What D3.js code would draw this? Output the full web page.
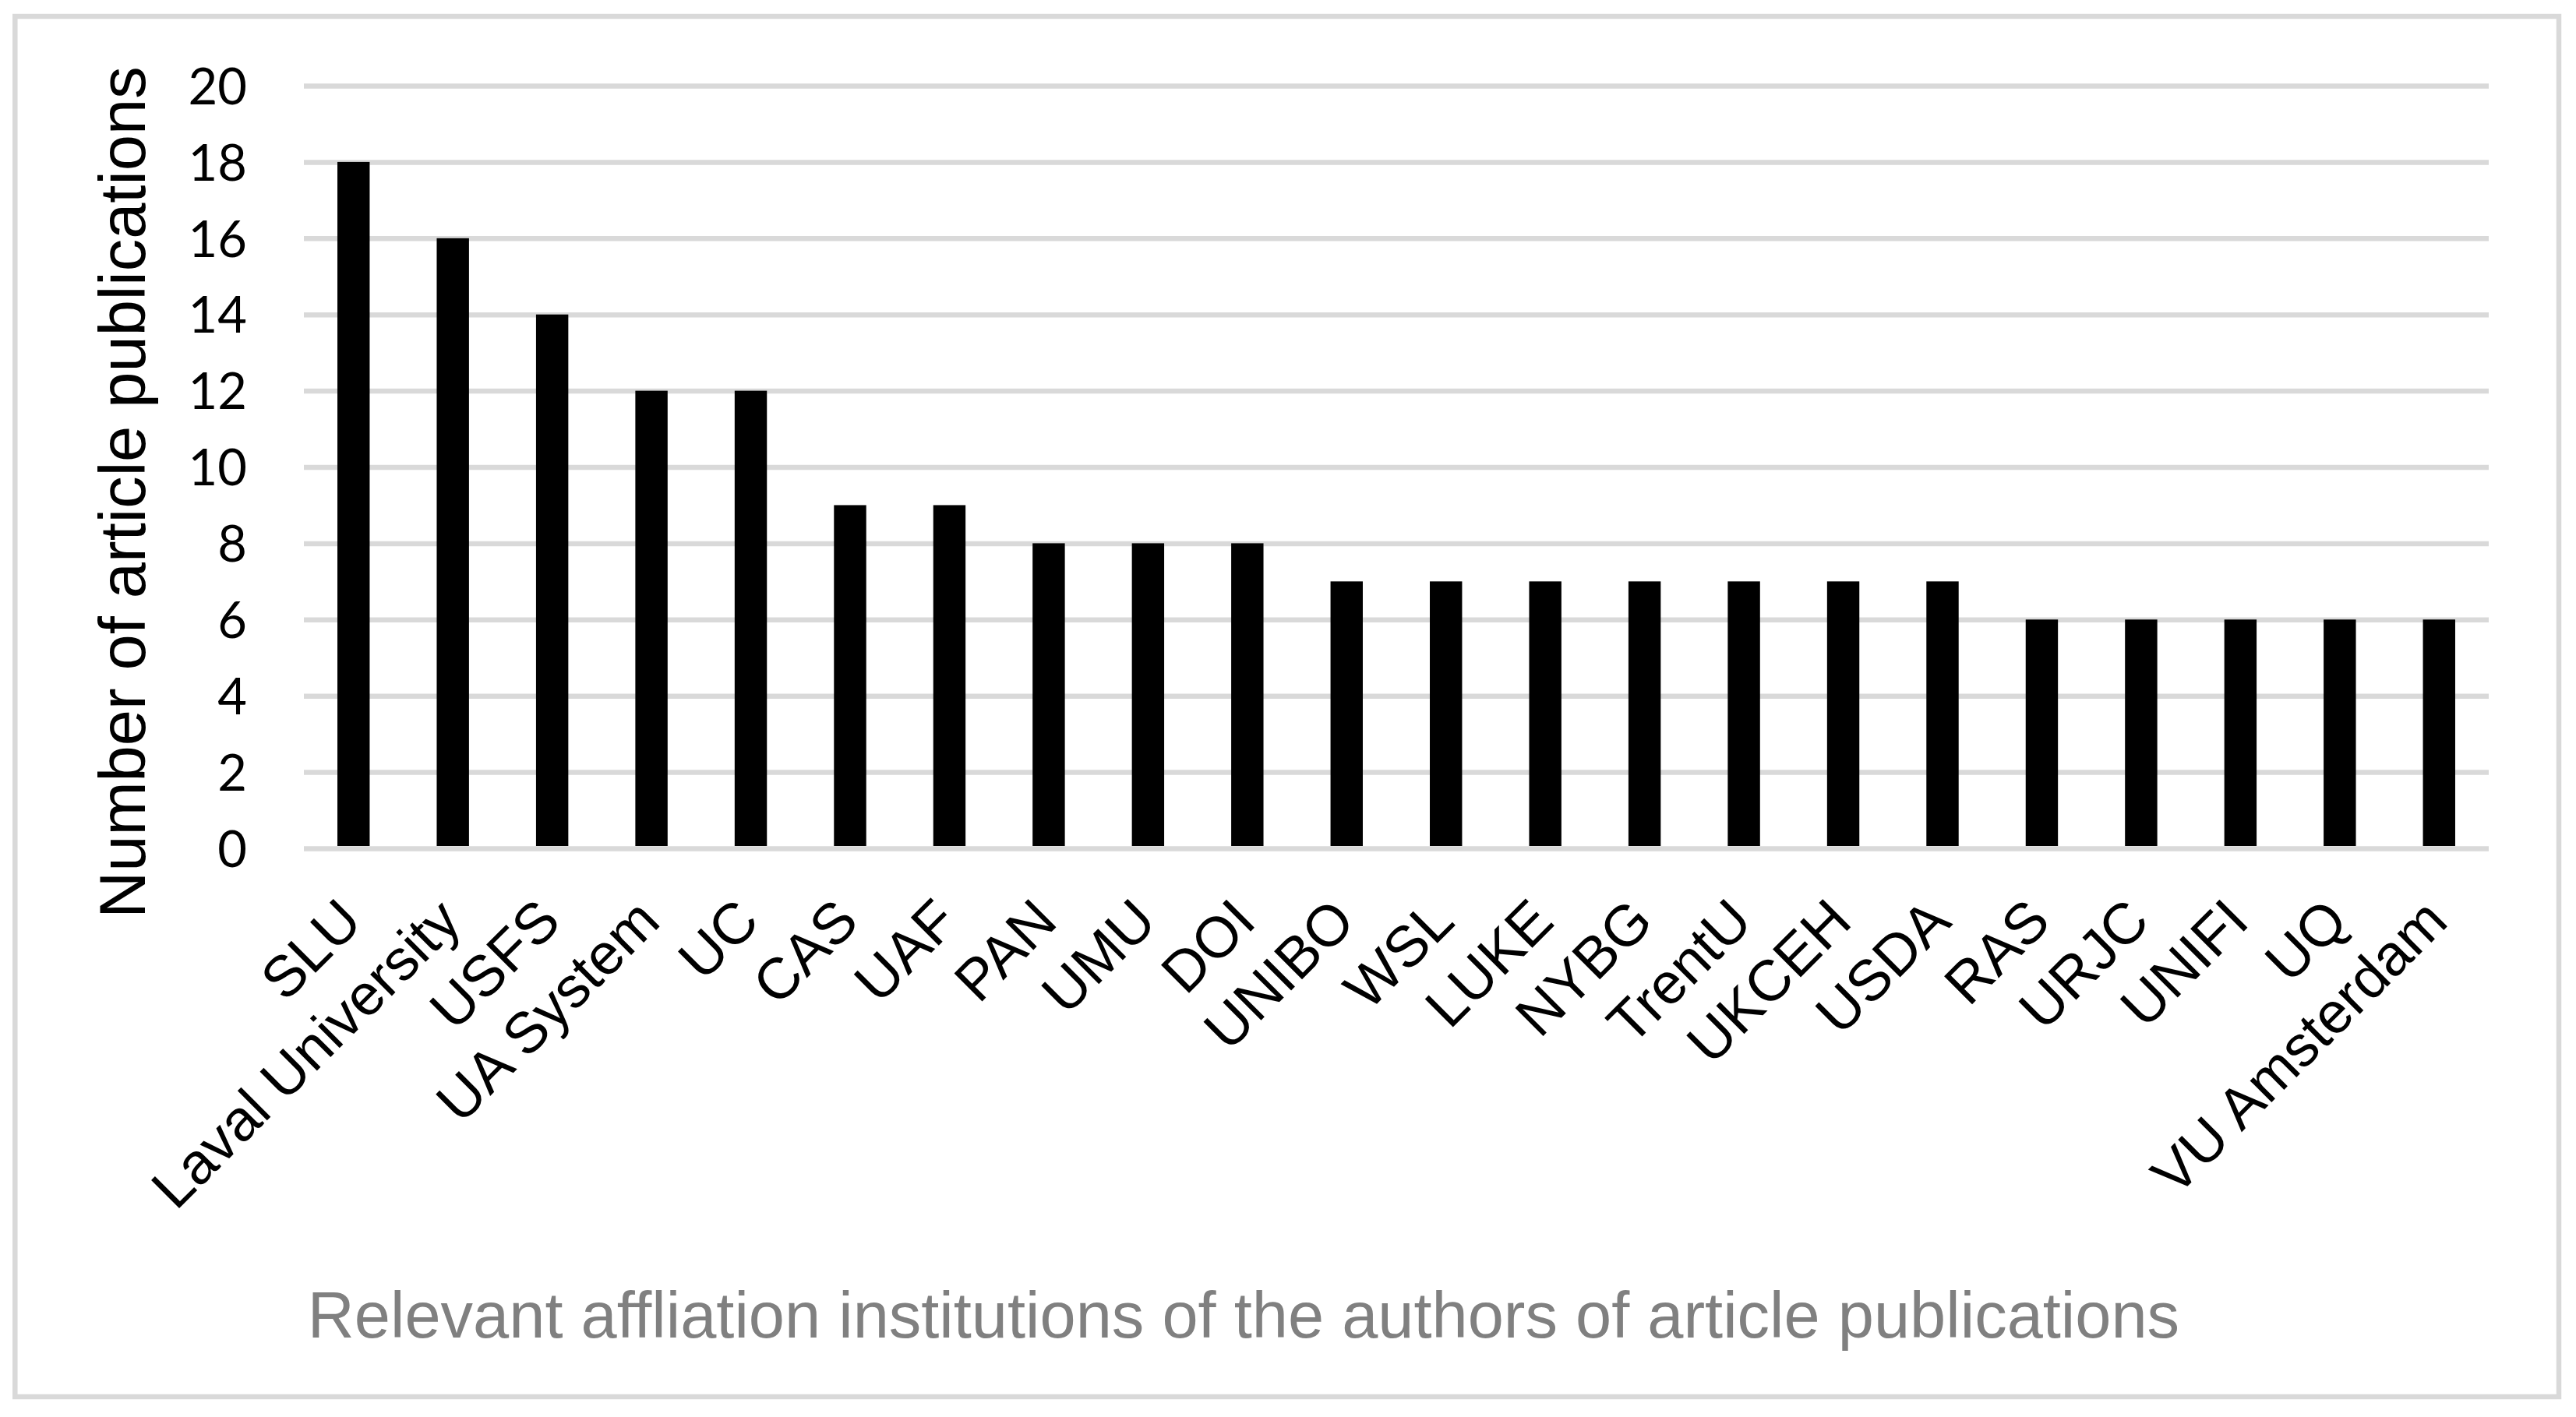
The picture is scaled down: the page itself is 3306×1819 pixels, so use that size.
<!DOCTYPE html>
<html>
<head>
<meta charset="utf-8">
<style>
  body { margin: 0; background: #ffffff; }
  svg { display: block; }
</style>
<script src="https://d3js.org/d3.v7.min.js"></script>
</head>
<body>
<div id="chart"></div>
<script>
// institutions and article counts
const institutions = ["SLU", "Laval University", "USFS", "UA System", "UC", "CAS", "UAF", "PAN", "UMU", "DOI",
  "UNIBO", "WSL", "LUKE", "NYBG", "TrentU", "UKCEH", "USDA", "RAS", "URJC", "UNIFI", "UQ", "VU Amsterdam"];
const counts = [18, 16, 14, 12, 12, 9, 9, 8, 8, 8, 7, 7, 7, 7, 7, 7, 7, 6, 6, 6, 6, 6];
const yTicks = [0, 2, 4, 6, 8, 10, 12, 14, 16, 18, 20];
const yTitle = "Number of article publications";
const xTitle = "Relevant affliation institutions of the authors of article publications";

const width = 3306, height = 1819;
const plot = { left: 390, right: 3194, top: 110, bottom: 1089 };
const data = institutions.map((name, i) => ({ name: name, value: counts[i] }));

const svg = d3.select("#chart").append("svg")
  .attr("width", width)
  .attr("height", height);

svg.append("rect")
  .attr("width", width).attr("height", height)
  .attr("fill", "#ffffff");

// chart frame
svg.append("rect")
  .attr("x", 19.3).attr("y", 21)
  .attr("width", 3284 - 19.3).attr("height", 1793 - 21)
  .attr("fill", "none")
  .attr("stroke", "#d9d9d9")
  .attr("stroke-width", 6.5);

const x = d3.scaleBand()
  .domain(institutions)
  .range([plot.left, plot.right])
  .paddingInner(0.675)
  .paddingOuter(0.3375);

const y = d3.scaleLinear()
  .domain([0, 20])
  .range([plot.bottom, plot.top]);

// y axis with gridlines
const yAxis = svg.append("g")
  .attr("transform", `translate(${plot.left},0)`)
  .call(d3.axisLeft(y).tickValues(yTicks).tickSize(-(plot.right - plot.left)).tickPadding(73));

yAxis.select(".domain").remove();
yAxis.selectAll(".tick line")
  .attr("stroke", "#d9d9d9")
  .attr("stroke-width", 6.5);
yAxis.selectAll(".tick text")
  .attr("fill", "#000000")
  .attr("dy", "0.358em")
  .style("font-family", "Lato, 'Open Sans', sans-serif")
  .style("font-size", "65px");

// bars
svg.append("g")
  .selectAll("rect")
  .data(data)
  .enter().append("rect")
  .attr("x", d => x(d.name))
  .attr("y", d => y(d.value))
  .attr("width", x.bandwidth())
  .attr("height", d => y(0) - y(d.value) - 3)
  .attr("fill", "#000000");

// category labels
svg.append("g")
  .selectAll("text")
  .data(data)
  .enter().append("text")
  .attr("transform", d => `translate(${x(d.name) + x.bandwidth() / 2 + 14},${y(0) + 97}) rotate(-45)`)
  .attr("text-anchor", "end")
  .style("font-family", "Arial, 'Liberation Sans', sans-serif")
  .style("font-size", "74px")
  .attr("fill", "#000000")
  .text(d => d.name);

// axis titles
svg.append("text")
  .attr("transform", "translate(186,632) rotate(-90)")
  .attr("text-anchor", "middle")
  .style("font-family", "Arial, 'Liberation Sans', sans-serif")
  .style("font-size", "83px")
  .attr("fill", "#000000")
  .text(yTitle);

svg.append("text")
  .attr("x", 1596).attr("y", 1717)
  .attr("text-anchor", "middle")
  .style("font-family", "Arial, 'Liberation Sans', sans-serif")
  .style("font-size", "83px")
  .attr("fill", "#808080")
  .text(xTitle);
</script>
</body>
</html>
